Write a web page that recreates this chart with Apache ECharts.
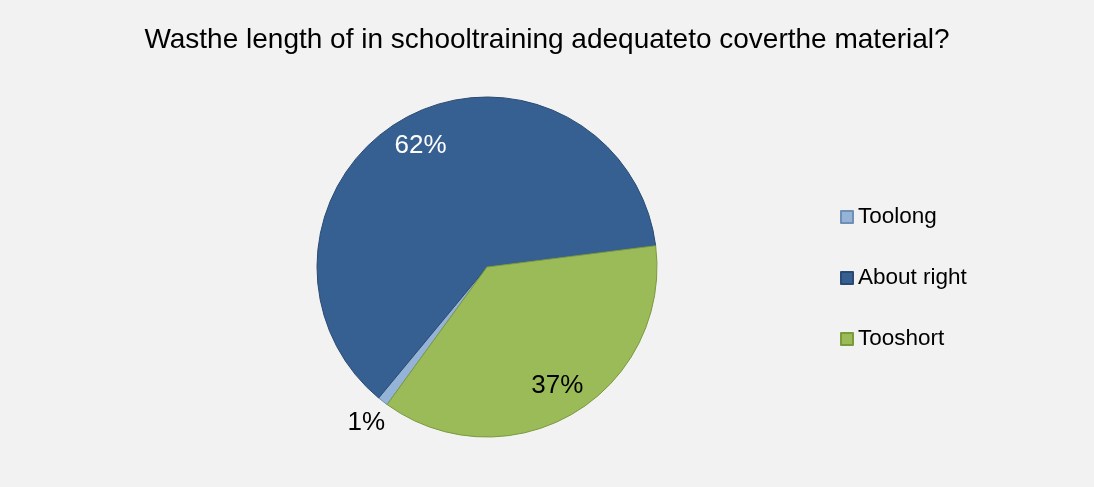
<!DOCTYPE html>
<html><head><meta charset="utf-8">
<script src="https://cdn.jsdelivr.net/npm/echarts@6/dist/echarts.min.js"></script>
<style>html,body{margin:0;padding:0;background:#F2F2F2;}#c{width:1094px;height:487px;}</style>
</head><body><div id="c"></div>
<script>
const categories = ['Toolong', 'About right', 'Tooshort'];
const values = [1, 62, 37];
const colors = ['#95B3D7', '#376092', '#9BBB59'];
const borderColors = ['#6F8FB5', '#2A4A72', '#7A9A3C'];
const titleText = 'Wasthe length of in schooltraining adequateto coverthe material?';

const chart = echarts.init(document.getElementById('c'));
const base = categories.map((n, i) => ({ name: n, value: values[i],
  itemStyle: { color: colors[i], borderColor: borderColors[i], borderWidth: 1 } }));
const ghost = (showIdx, labelColors) => categories.map((n, i) => ({ name: n, value: values[i],
  itemStyle: { color: 'rgba(0,0,0,0)', borderWidth: 0 },
  label: { show: showIdx.includes(i), color: labelColors[i] } }));
const center = [487, 267];
const startAngle = 234;
chart.setOption({
  backgroundColor: '#F2F2F2',
  animation: false,
  title: { text: titleText, left: 'center', top: 21,
    textStyle: { fontFamily: 'Liberation Sans', fontSize: 28, fontWeight: 'normal', color: '#000' } },
  legend: { orient: 'vertical', left: 835, top: 200, itemWidth: 12, itemHeight: 12, itemGap: 37,
    icon: 'rect', data: categories,
    textStyle: { fontFamily: 'Liberation Sans', fontSize: 22.5, color: '#000', lineHeight: 24 } },
  series: [
    { type: 'pie', radius: 170, center, startAngle, clockwise: true, data: base,
      label: { show: false }, labelLine: { show: false }, silent: true },
    { type: 'pie', radius: [100, 170], center, startAngle, clockwise: true,
      data: ghost([1, 2], ['#000', '#fff', '#000']), silent: true, legendHoverLink: false,
      label: { position: 'inside', formatter: '{d}%', fontFamily: 'Liberation Sans', fontSize: 26 },
      labelLine: { show: false } },
    { type: 'pie', radius: [170, 218], center, startAngle, clockwise: true,
      data: ghost([0], ['#000', '#000', '#000']), silent: true,
      label: { position: 'inside', formatter: '{d}%', fontFamily: 'Liberation Sans', fontSize: 26 },
      labelLine: { show: false } }
  ]
});
</script></body></html>
